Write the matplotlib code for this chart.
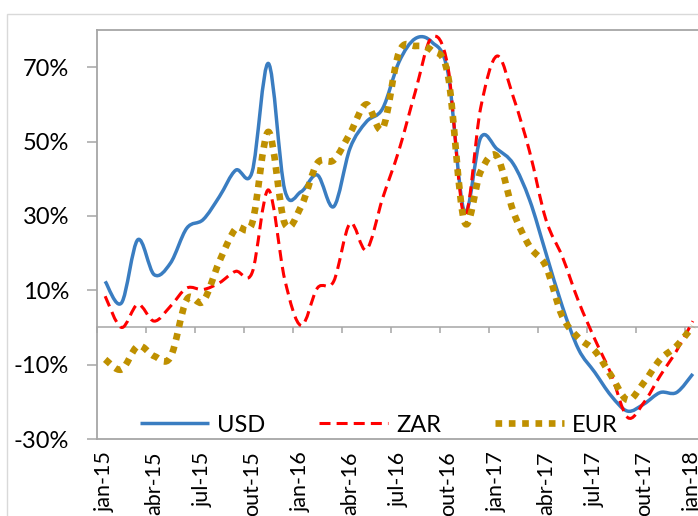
#!/usr/bin/env python3
"""Monthly change by currency (USD, ZAR, EUR), jan-15 to jan-18, Excel-style smoothed lines."""

import matplotlib

matplotlib.use("Agg")
import matplotlib.pyplot as plt
import numpy as np
from matplotlib.lines import Line2D
from matplotlib.patches import PathPatch, Rectangle
from matplotlib.path import Path
from matplotlib.ticker import FuncFormatter

# one value per month, jan-15 .. jan-18 (fractions)
usd = [0.124, 0.066, 0.236, 0.142, 0.173, 0.267, 0.290, 0.352, 0.423, 0.418,
       0.710, 0.370, 0.365, 0.410, 0.325, 0.482, 0.553, 0.589, 0.714, 0.777,
       0.768, 0.685, 0.312, 0.510, 0.480, 0.440, 0.343, 0.200, 0.057, -0.059,
       -0.121, -0.184, -0.225, -0.206, -0.175, -0.175, -0.125]
zar = [0.084, 0.000, 0.062, 0.017, 0.057, 0.106, 0.102, 0.120, 0.151, 0.147,
       0.370, 0.129, 0.005, 0.106, 0.124, 0.280, 0.209, 0.348, 0.477, 0.634,
       0.780, 0.700, 0.300, 0.590, 0.730, 0.620, 0.473, 0.290, 0.191, 0.070,
       -0.032, -0.126, -0.242, -0.202, -0.130, -0.063, 0.017]
eur = [-0.086, -0.113, -0.050, -0.077, -0.080, 0.075, 0.070, 0.178, 0.266, 0.280,
       0.526, 0.280, 0.325, 0.442, 0.450, 0.522, 0.600, 0.535, 0.740, 0.757,
       0.745, 0.678, 0.285, 0.419, 0.460, 0.312, 0.218, 0.164, 0.030, -0.028,
       -0.063, -0.130, -0.195, -0.148, -0.086, -0.050, 0.003]

tick_labels = ["jan-15", "abr-15", "jul-15", "out-15", "jan-16", "abr-16", "jul-16",
               "out-16", "jan-17", "abr-17", "jul-17", "out-17", "jan-18"]
y_ticks = [-0.3, -0.1, 0.1, 0.3, 0.5, 0.7]

SERIES = [
    ("USD", usd, dict(color="#3A7DC1", linewidth=2.5, linestyle="-")),
    ("ZAR", zar, dict(color="#FF0000", linewidth=2.2, linestyle=(0, (3.6, 2.0)))),
    ("EUR", eur, dict(color="#BF9000", linewidth=4.8, linestyle=(0, (1.0, 1.0)))),
]

AXIS_GREY = "#A6A6A6"
FONT = ["Lato", "DejaVu Sans"]


def smooth_path(xs, ys):
    # cubic bezier through every point, like Excel's "smoothed line"
    pts = np.column_stack([xs, ys]).astype(float)
    n = len(pts)
    verts = [pts[0]]
    codes = [Path.MOVETO]
    for i in range(n - 1):
        p0 = pts[i - 1] if i > 0 else pts[i]
        p1 = pts[i]
        p2 = pts[i + 1]
        p3 = pts[i + 2] if i + 2 < n else pts[i + 1]
        verts += [p1 + (p2 - p0) / 6.0, p2 - (p3 - p1) / 6.0, p2]
        codes += [Path.CURVE4] * 3
    return Path(verts, codes)


plt.rcParams["font.family"] = FONT

fig = plt.figure(figsize=(6.98, 5.16), dpi=100)
fig.patches.append(Rectangle((7 / 698, -0.1), 1.2, 1.1 - 14 / 516,
                             transform=fig.transFigure, fill=False,
                             edgecolor="#D9D9D9", linewidth=1.0))

ax = fig.add_axes([97 / 698, 1 - 439 / 516, 604 / 698, 409 / 516])

months = np.arange(len(usd))
for name, values, style in SERIES:
    patch = PathPatch(smooth_path(months, values), fill=False,
                      capstyle="butt", joinstyle="round", **style)
    ax.add_patch(patch)

ax.set_xlim(-0.5, len(usd) - 0.5)
ax.set_ylim(-0.3, 0.8)

ax.set_yticks(y_ticks)
ax.yaxis.set_major_formatter(FuncFormatter(lambda v, _: f"{v * 100:.0f}%"))
ax.tick_params(axis="y", direction="out", length=7, width=1.1, color=AXIS_GREY,
               pad=13, labelsize=17)

ax.set_xticks(months[::3])
ax.set_xticklabels(tick_labels, rotation=90)
ax.tick_params(axis="x", length=0, pad=9, labelsize=15.5)

for side in ["left", "bottom", "top", "right"]:
    ax.spines[side].set_color(AXIS_GREY)
    ax.spines[side].set_linewidth(1.3)

# category axis crosses at zero, ticks between categories
zero_axis = ax.secondary_xaxis(0.3 / 1.1)
zero_axis.set_xticks(np.arange(-0.5, len(usd) - 0.5, 3))
zero_axis.tick_params(axis="x", direction="out", length=4.5, width=1.1,
                      color=AXIS_GREY, labelbottom=False, labeltop=False)
zero_axis.spines["bottom"].set_color(AXIS_GREY)
zero_axis.spines["bottom"].set_linewidth(1.1)
zero_axis.spines["top"].set_visible(False)

handles = [Line2D([0], [0], solid_capstyle="butt", dash_capstyle="butt", **style)
           for _, _, style in SERIES]
ax.legend(handles, [name for name, _, _ in SERIES], loc="center",
          bbox_to_anchor=(379 / 698, 1 - 425 / 516), bbox_transform=fig.transFigure,
          ncol=3, frameon=False, fontsize=17, handlelength=2.9,
          handletextpad=0.35, columnspacing=2.3)

fig.savefig("out.png", dpi=100)
